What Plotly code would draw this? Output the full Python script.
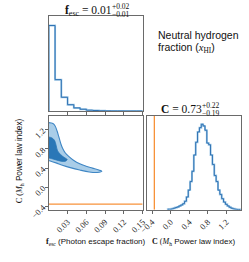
import plotly.graph_objects as go

# ---------------- data ----------------
fesc_edges = [0.00, 0.01, 0.02, 0.03, 0.04, 0.05, 0.06, 0.07, 0.08, 0.09,
              0.10, 0.11, 0.12, 0.13, 0.14, 0.15]
fesc_counts = [1.00, 0.368, 0.162, 0.075, 0.038, 0.022, 0.011, 0.0075,
               0.004, 0.003, 0.002, 0.002, 0.001, 0.001, 0.001]

C_edges = [-0.06, -0.02, 0.02, 0.06, 0.10, 0.14, 0.18, 0.22, 0.26, 0.30,
           0.34, 0.38, 0.42, 0.46, 0.50, 0.54, 0.58, 0.62, 0.66, 0.70,
           0.74, 0.78, 0.82, 0.86, 0.90, 0.94, 0.98, 1.02, 1.06, 1.10,
           1.14, 1.18, 1.22, 1.26, 1.30, 1.34, 1.38, 1.42, 1.46, 1.50]
C_counts = [0.007, 0.007, 0.011, 0.019, 0.026, 0.034, 0.045, 0.056, 0.071, 0.10,
            0.15, 0.23, 0.33, 0.45, 0.64, 0.79, 0.91, 0.96, 1.00, 0.98,
            0.93, 0.78, 0.76, 0.64, 0.53, 0.40, 0.33, 0.23, 0.18, 0.13,
            0.09, 0.064, 0.045, 0.030, 0.019, 0.011, 0.007, 0.004, 0.004]

# 2-D credible regions (boundary points, f_esc, C)
outer_f = [0.0, 0.0066, 0.0101, 0.0131, 0.0162, 0.0192, 0.0222, 0.0268, 0.0318,
           0.0394, 0.0495, 0.0596, 0.0697, 0.080, 0.0848,
           0.0773, 0.0646, 0.0495, 0.0343, 0.0217, 0.0116, 0.0]
outer_C = [1.35, 1.33, 1.28, 1.18, 1.046, 0.91, 0.81, 0.71, 0.646,
           0.566, 0.49, 0.44, 0.40, 0.36, 0.335,
           0.31, 0.32, 0.36, 0.41, 0.46, 0.51, 0.56]
inner_f = [0.0, 0.005, 0.0091, 0.0116, 0.0141, 0.0192, 0.0242, 0.0293,
           0.0267, 0.0192, 0.0116, 0.004, 0.0]
inner_C = [1.05, 1.03, 0.98, 0.88, 0.76, 0.68, 0.626, 0.58,
           0.546, 0.546, 0.572, 0.60, 0.612]

C_true = -0.35

fesc_ticks = [0.03, 0.06, 0.09, 0.12, 0.15]
fesc_ticktext = ["0.03", "0.06", "0.09", "0.12", "0.15"]
C_ticks = [-0.4, 0.0, 0.4, 0.8, 1.2]
C_ticktext = ["\u22120.4", "0.0", "0.4", "0.8", "1.2"]

# ---------------- styling ----------------
W, H = 249, 262
DARK = "#2f72b3"
LIGHT = "#9fc8e6"
FILL_OUT = "#a9cde8"
FILL_IN = "#2a77b7"
EDGE = "#3f86c4"
ORANGE = "#f7923a"
SERIF = "Liberation Serif, Times New Roman, serif"
SANS = "Liberation Sans, Arial, sans-serif"


def px(x):
    return x / W


def py(y):
    return 1 - y / H


def steps(edges, counts):
    xs = [edges[0]] + list(edges) + [edges[-1]]
    ys = [0] + list(counts) + [counts[-1], 0]
    return xs, ys


fig = go.Figure()

# top-left: f_esc histogram
hx, hy = steps(fesc_edges, fesc_counts)
fig.add_trace(go.Scatter(x=hx, y=hy, mode="lines", line=dict(color=LIGHT, width=2.0, shape="hv"),
                         xaxis="x", yaxis="y", hoverinfo="skip"))
fig.add_trace(go.Scatter(x=hx, y=hy, mode="lines", line=dict(color=DARK, width=1.0, shape="hv"),
                         xaxis="x", yaxis="y", hoverinfo="skip"))

# bottom-left: 2D contours
fig.add_trace(go.Scatter(x=outer_f, y=outer_C, mode="lines", fill="toself", fillcolor=FILL_OUT,
                         line=dict(color=EDGE, width=1.1, shape="spline"),
                         xaxis="x2", yaxis="y2", hoverinfo="skip"))
fig.add_trace(go.Scatter(x=inner_f, y=inner_C, mode="lines", fill="toself", fillcolor=FILL_IN,
                         line=dict(color=FILL_IN, width=0.8, shape="spline"),
                         xaxis="x2", yaxis="y2", hoverinfo="skip"))
fig.add_trace(go.Scatter(x=[fesc_edges[0], fesc_edges[-1]], y=[C_true, C_true], mode="lines",
                         line=dict(color=ORANGE, width=1.3), xaxis="x2", yaxis="y2", hoverinfo="skip"))

# bottom-right: C histogram
cx, cy = steps(C_edges, C_counts)
fig.add_trace(go.Scatter(x=cx, y=cy, mode="lines", line=dict(color=LIGHT, width=2.0, shape="hv"),
                         xaxis="x3", yaxis="y3", hoverinfo="skip"))
fig.add_trace(go.Scatter(x=cx, y=cy, mode="lines", line=dict(color=DARK, width=1.0, shape="hv"),
                         xaxis="x3", yaxis="y3", hoverinfo="skip"))
fig.add_trace(go.Scatter(x=[C_true, C_true], y=[0, 1.2], mode="lines",
                         line=dict(color=ORANGE, width=1.3), xaxis="x3", yaxis="y3", hoverinfo="skip"))

dxL = [px(42), px(141)]
dxR = [px(146), px(245)]
dyT = [py(116), py(17)]
dyB = [py(219), py(121)]

frame = dict(showline=True, linecolor="#6a6a6a", linewidth=1, mirror=True,
             showgrid=False, zeroline=False)
tickfont = dict(family=SERIF, size=8.5, color="#222")

fig.update_layout(
    width=W, height=H, margin=dict(l=0, r=0, t=0, b=0),
    paper_bgcolor="white", plot_bgcolor="white", showlegend=False,
    xaxis=dict(domain=dxL, anchor="y", range=[0, 0.15], tickvals=fesc_ticks,
               showticklabels=False, ticks="outside", ticklen=3, tickcolor="#666", **frame),
    yaxis=dict(domain=dyT, anchor="x", range=[0, 1.108], showticklabels=False, ticks="", **frame),
    xaxis2=dict(domain=dxL, anchor="y2", range=[0, 0.15], tickvals=fesc_ticks, ticktext=fesc_ticktext,
                tickangle=-45, ticks="outside", ticklen=3, tickcolor="#666", tickfont=tickfont, **frame),
    yaxis2=dict(domain=dyB, anchor="x2", range=[-0.47, 1.49], tickvals=C_ticks, ticktext=C_ticktext,
                tickangle=-45, ticks="outside", ticklen=3, tickcolor="#666", tickfont=tickfont, **frame),
    xaxis3=dict(domain=dxR, anchor="y3", range=[-0.5, 1.52], tickvals=C_ticks, ticktext=C_ticktext,
                tickangle=-45, ticks="outside", ticklen=3, tickcolor="#666", tickfont=tickfont, **frame),
    yaxis3=dict(domain=dyB, anchor="x3", range=[0, 1.097], showticklabels=False, ticks="", **frame),
)

ann = []
TS = 11.5
SS = 7.5


def text(x, y, t, size, family, anchor="left", angle=0):
    ann.append(dict(x=px(x), y=py(y), xref="paper", yref="paper", xanchor=anchor, yanchor="middle",
                    align=anchor, text=t, showarrow=False, textangle=angle, borderpad=0,
                    font=dict(family=family, size=size, color="#111")))


# title f_esc
text(58, 11, "<b>f</b><sub>esc</sub> = 0.01", TS, SERIF)
text(107.5, 7, "+0.02", SS, SERIF)
text(107.5, 15, "\u22120.01", SS, SERIF)
# title C
text(159, 114, "<b>C</b> = 0.73", TS, SERIF)
text(202.5, 110, "+0.22", SS, SERIF)
text(202.5, 118, "\u22120.19", SS, SERIF)
# legend-like text
text(156, 37, "Neutral hydrogen", 10.5, SANS)
text(156, 50, "fraction (<span style='font-family:Liberation Serif'><i>x</i><sub>HI</sub></span>)", 10.5, SANS)
# axis labels
text(92, 252.5,
     "<span style='font-family:Liberation Serif'><b>f</b><sub>esc</sub></span> (Photon escape fraction)",
     8.0, SANS, anchor="center")
text(195, 252.5,
     "<span style='font-family:Liberation Serif'><b>C</b> (<i>M</i><sub>h</sub></span> Power law index)",
     8.0, SANS, anchor="center")
text(12, 168,
     "<span style='font-family:Liberation Serif'>C (<i>M</i><sub>h</sub></span> Power law index)",
     8.2, SANS, anchor="center", angle=-90)
fig.update_layout(annotations=ann)

fig.write_html("out.html", config={"displayModeBar": False},
               post_script="document.body.style.margin='0';")
